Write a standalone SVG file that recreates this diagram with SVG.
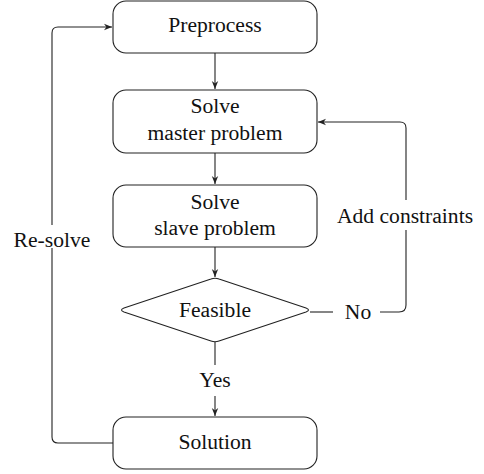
<svg xmlns="http://www.w3.org/2000/svg" width="484" height="474" viewBox="0 0 484 474">
<style>
.box{fill:#fff;stroke:#222;stroke-width:1.1}
.ln{fill:none;stroke:#222;stroke-width:1.1}
text{font-family:"Liberation Serif","DejaVu Serif",serif;font-size:21.6px;fill:#111;text-anchor:middle}
</style>
<defs>
<marker id="ah" viewBox="0 0 10 10" refX="10" refY="5" markerWidth="8" markerHeight="8" markerUnits="userSpaceOnUse" orient="auto">
<path d="M0,1 L10,5 L0,9 L3,5 Z" fill="#222"/>
</marker>
</defs>
<g id="connectors">
<line class="ln" x1="215" y1="53" x2="215" y2="89" marker-end="url(#ah)"/>
<line class="ln" x1="215" y1="153" x2="215" y2="184" marker-end="url(#ah)"/>
<line class="ln" x1="215" y1="247" x2="215" y2="277" marker-end="url(#ah)"/>
<line class="ln" x1="215" y1="342" x2="215" y2="365"/>
<line class="ln" x1="215" y1="396" x2="215" y2="416" marker-end="url(#ah)"/>
<path class="ln" d="M310,312 H333"/>
<path class="ln" d="M380,312 H399 Q406,312 406,305 V230"/>
<path class="ln" d="M406,200 V128 Q406,122 400,122 H318" marker-end="url(#ah)"/>
<path class="ln" d="M113,443 H58 Q52,443 52,437 V248"/>
<path class="ln" d="M52,225 V33 Q52,27 58,27 H112" marker-end="url(#ah)"/>
<text x="358" y="319">No</text>
<text x="405" y="223">Add constraints</text>
<text x="52" y="247">Re-solve</text>
<text x="215" y="387">Yes</text>
</g>
<g id="preprocess">
<rect class="box" x="113" y="1" width="204" height="52" rx="13"/>
<text x="215" y="32">Preprocess</text>
</g>
<g id="master">
<rect class="box" x="113" y="90" width="204" height="63" rx="13"/>
<text x="215" y="113">Solve</text>
<text x="215" y="140">master problem</text>
</g>
<g id="slave">
<rect class="box" x="113" y="185" width="204" height="62" rx="13"/>
<text x="215" y="209">Solve</text>
<text x="215" y="235">slave problem</text>
</g>
<g id="feasible">
<path class="box" d="M211,279 Q215,277.5 219,279 L306,308 Q311,310 306,312 L219,341 Q215,342.5 211,341 L124,312 Q119,310 124,308 Z"/>
<text x="215" y="317">Feasible</text>
</g>
<g id="solution">
<rect class="box" x="113" y="417" width="204" height="52" rx="13"/>
<text x="215" y="449">Solution</text>
</g>
</svg>
